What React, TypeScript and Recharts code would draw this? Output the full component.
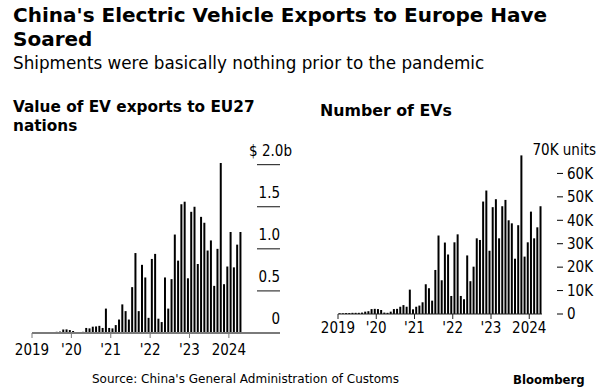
import React from 'react';
import { BarChart, Bar, XAxis, YAxis } from 'recharts';

const FONT = '"DejaVu Sans", sans-serif';
const TICK_FONT = '"DejaVu Sans Condensed", "DejaVu Sans", sans-serif';

const months = [
  '2019-01', '2019-02', '2019-03', '2019-04', '2019-05', '2019-06', '2019-07', '2019-08', '2019-09', '2019-10', '2019-11', '2019-12',
  '2020-01', '2020-02', '2020-03', '2020-04', '2020-05', '2020-06', '2020-07', '2020-08', '2020-09', '2020-10', '2020-11', '2020-12',
  '2021-01', '2021-02', '2021-03', '2021-04', '2021-05', '2021-06', '2021-07', '2021-08', '2021-09', '2021-10', '2021-11', '2021-12',
  '2022-01', '2022-02', '2022-03', '2022-04', '2022-05', '2022-06', '2022-07', '2022-08', '2022-09', '2022-10', '2022-11', '2022-12',
  '2023-01', '2023-02', '2023-03', '2023-04', '2023-05', '2023-06', '2023-07', '2023-08', '2023-09', '2023-10', '2023-11', '2023-12',
  '2024-01', '2024-02', '2024-03', '2024-04',
];

// value of EV exports to EU27, $ billions
const exportValue = [
  0.008, 0.008, 0.009, 0.009, 0.01, 0.01, 0.011, 0.014, 0.017, 0.043, 0.043, 0.035,
  0.024, 0.012, 0.01, 0.014, 0.06, 0.055, 0.075, 0.078, 0.085, 0.06, 0.29, 0.06,
  0.055, 0.094, 0.16, 0.34, 0.26, 0.16, 0.545, 0.95, 0.26, 0.81, 0.66, 0.18,
  0.88, 0.94, 0.17, 0.13, 0.66, 0.29, 0.64, 1.17, 0.86, 1.53, 1.56, 0.65,
  1.44, 1.5, 0.82, 1.38, 1.31, 0.98, 1.1, 0.56, 1.0, 2.02, 0.58, 0.79,
  1.2, 0.78, 1.05, 1.2,
];

// number of EVs, thousands of units
const exportUnits = [
  0.3, 0.3, 0.4, 0.4, 0.5, 0.5, 0.5, 0.6, 1.0, 1.2, 2.1, 2.2,
  2.1, 1.7, 0.6, 0.5, 1.0, 2.1, 2.2, 3.1, 3.8, 3.1, 10.4, 2.0,
  3.1, 3.6, 5.0, 12.7, 11.0, 5.7, 18.8, 33.5, 14.4, 30.5, 25.4, 7.7,
  30.6, 34.0, 7.7, 6.3, 25.0, 14.0, 20.2, 32.3, 31.6, 48.0, 52.7, 27.0,
  45.6, 49.0, 32.3, 46.0, 48.7, 40.0, 38.7, 23.6, 37.9, 67.7, 24.5, 30.6,
  43.7, 32.3, 37.0, 46.0,
];

const yearLabels: Record<string, string> = {
  '2019-01': '2019',
  '2020-01': "'20",
  '2021-01': "'21",
  '2022-01': "'22",
  '2023-01': "'23",
  '2024-01': '2024',
};

const valueTicks = [0, 0.5, 1, 1.5, 2];
const valueTickLabels = ['0', '0.5', '1.0', '1.5', '$ 2.0b'];
const unitTicks = [0, 10, 20, 30, 40, 50, 60, 70];
const unitTickLabels = ['0', '10K', '20K', '30K', '40K', '50K', '60K', '70K units'];

const valueData = months.map((m, i) => ({ month: m, value: exportValue[i] }));
const unitData = months.map((m, i) => ({ month: m, units: exportUnits[i] }));

// chart geometry
const CW = 300;
const L = { h: 220, top: 23, left: 32, yw: 58, xh: 27 };
const R = { h: 210, top: 10, left: 38, yw: 58, xh: 36 };

function XTick({ x, y, payload, band, color, labelDy }: any) {
  const label = yearLabels[payload.value];
  if (!label) return null;
  const tx = x - band / 2;
  return (
    <g>
      <line x1={tx} x2={tx} y1={y} y2={y + 5} stroke={color} strokeWidth={1} />
      <text x={tx} y={y + labelDy} textAnchor="middle" fontSize={15} fontFamily={TICK_FONT} fill="#000">
        {label}
      </text>
    </g>
  );
}

function ValueYTick({ y, payload, index }: any) {
  const plotRight = CW - L.yw;
  const isZero = payload.value === 0;
  const isTop = payload.value === 2;
  return (
    <g>
      <line
        x1={isZero ? L.left : plotRight + 15}
        x2={plotRight + 38}
        y1={y}
        y2={y}
        stroke={isZero ? '#7a7a7a' : '#111'}
        strokeWidth={isZero ? 2 : 1}
      />
      <text x={isTop ? plotRight + 50 : plotRight + 38} y={y - 9} textAnchor="end" fontSize={15} fontFamily={TICK_FONT} fill="#000">
        {valueTickLabels[index]}
      </text>
    </g>
  );
}

function UnitYTick({ y, payload, index }: any) {
  const plotRight = CW - R.yw;
  if (payload.value === 70) {
    return (
      <text x={plotRight + 54} y={y} dy="0.35em" textAnchor="end" fontSize={15} fontFamily={TICK_FONT} fill="#000">
        {unitTickLabels[index]}
      </text>
    );
  }
  return (
    <g>
      <line x1={plotRight + 15} x2={plotRight + 21} y1={y} y2={y} stroke="#000" strokeWidth={1} />
      <text x={plotRight + 25} y={y} dy="0.35em" textAnchor="start" fontSize={15} fontFamily={TICK_FONT} fill="#000">
        {unitTickLabels[index]}
      </text>
    </g>
  );
}

export default function App() {
  const lBand = (CW - L.left - L.yw) / months.length;
  const rBand = (CW - R.left - R.yw) / months.length;
  return (
    <div style={{ position: 'absolute', left: 0, top: 0, width: 600, height: 389, background: '#fff', fontFamily: FONT, color: '#000' }}>
      <div style={{ position: 'absolute', left: 13, top: 3, width: 560, fontSize: 20, fontWeight: 'bold', lineHeight: '24px' }}>
        China's Electric Vehicle Exports to Europe Have Soared
      </div>
      <div style={{ position: 'absolute', left: 13, top: 52, fontSize: 16.8, lineHeight: '22px' }}>
        Shipments were basically nothing prior to the pandemic
      </div>
      <div style={{ position: 'absolute', left: 13, top: 98, width: 280, fontSize: 15.3, fontWeight: 'bold', lineHeight: '19px' }}>
        Value of EV exports to EU27 nations
      </div>
      <div style={{ position: 'absolute', left: 320, top: 101, fontSize: 15.8, fontWeight: 'bold', lineHeight: '19px' }}>
        Number of EVs
      </div>

      <div style={{ position: 'absolute', left: 0, top: 140 }}>
        <BarChart width={CW} height={L.h} data={valueData} margin={{ top: L.top, right: 0, bottom: 0, left: L.left }} barCategoryGap="22%">
          <XAxis
            dataKey="month"
            interval={11}
            height={L.xh}
            axisLine={{ stroke: '#7a7a7a', strokeWidth: 2 }}
            tickLine={false}
            tick={(p: any) => <XTick {...p} y={L.h - L.xh} band={lBand} color="#7a7a7a" labelDy={22} />}
          />
          <YAxis
            orientation="right"
            width={L.yw}
            domain={[0, 2]}
            ticks={valueTicks}
            axisLine={false}
            tickLine={false}
            tick={(p: any) => <ValueYTick {...p} />}
          />
          <Bar dataKey="value" fill="#000" isAnimationActive={false} />
        </BarChart>
      </div>

      <div style={{ position: 'absolute', left: 300, top: 140 }}>
        <BarChart width={CW} height={R.h} data={unitData} margin={{ top: R.top, right: 0, bottom: 0, left: R.left }} barCategoryGap="22%">
          <XAxis
            dataKey="month"
            interval={11}
            height={R.xh}
            axisLine={{ stroke: '#222', strokeWidth: 1 }}
            tickLine={false}
            tick={(p: any) => <XTick {...p} y={R.h - R.xh} band={rBand} color="#222" labelDy={19} />}
          />
          <YAxis
            orientation="right"
            width={R.yw}
            domain={[0, 70]}
            ticks={unitTicks}
            axisLine={false}
            tickLine={false}
            tick={(p: any) => <UnitYTick {...p} />}
          />
          <Bar dataKey="units" fill="#000" isAnimationActive={false} />
        </BarChart>
      </div>

      <div style={{ position: 'absolute', left: 92, top: 372, fontSize: 12 }}>
        Source: China's General Administration of Customs
      </div>
      <div style={{ position: 'absolute', left: 513, top: 372, fontSize: 13, fontWeight: 'bold', fontFamily: TICK_FONT }}>
        Bloomberg
      </div>
    </div>
  );
}
